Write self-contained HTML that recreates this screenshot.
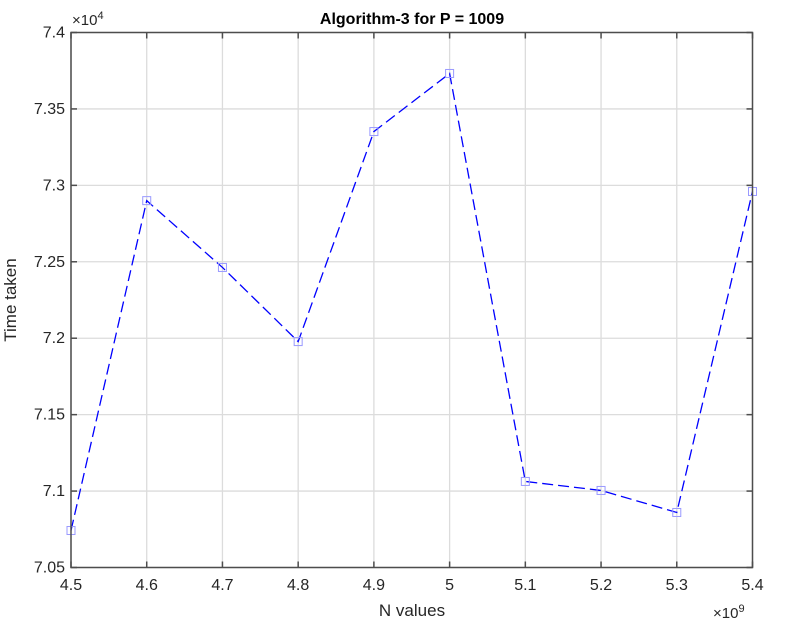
<!DOCTYPE html>
<html><head><meta charset="utf-8"><style>
body{margin:0;background:#fff;}
svg{display:block;font-family:"Liberation Sans",Arial,sans-serif;}
</style></head><body>
<svg id="chart" width="798" height="635" viewBox="0 0 798 635">
<rect x="0" y="0" width="798" height="635" fill="#fff"/>
<g id="grid"></g>
<g id="series"></g>
<rect x="71" y="32.5" width="681.5" height="535" fill="none" stroke="#4d4d4d" stroke-width="1.5"/>
<g id="ticks"></g>
<text x="412" y="24" text-anchor="middle" font-size="16" font-weight="bold" fill="#000">Algorithm-3 for P = 1009</text>
<text x="412" y="616" text-anchor="middle" font-size="17" fill="#262626">N values</text>
<text transform="translate(16,300) rotate(-90)" text-anchor="middle" font-size="17" fill="#262626">Time taken</text>
<text x="72" y="25" font-size="15" fill="#262626">×10<tspan font-size="11" dy="-6">4</tspan></text>
<text x="713" y="618" font-size="15" fill="#262626">×10<tspan font-size="11" dy="-6">9</tspan></text>
</svg>
<script>
const xValues = [4.5, 4.6, 4.7, 4.8, 4.9, 5.0, 5.1, 5.2, 5.3, 5.4];
const yValues = [7.0742, 7.2900, 7.2463, 7.1978, 7.3352, 7.3732, 7.1063, 7.1004, 7.0860, 7.2960];
const xTicks = [4.5, 4.6, 4.7, 4.8, 4.9, 5.0, 5.1, 5.2, 5.3, 5.4];
const xTickLabels = ["4.5","4.6","4.7","4.8","4.9","5","5.1","5.2","5.3","5.4"];
const yTicks = [7.05, 7.1, 7.15, 7.2, 7.25, 7.3, 7.35, 7.4];
const yTickLabels = ["7.05","7.1","7.15","7.2","7.25","7.3","7.35","7.4"];

const L=71,R=752.5,T=32.5,B=567.5;
function sx(v){return L+(v-4.5)/(5.4-4.5)*(R-L);}
function sy(v){return B-(v-7.05)/(7.4-7.05)*(B-T);}
const NS="http://www.w3.org/2000/svg";
function mk(tag,attrs,parent){const e=document.createElementNS(NS,tag);for(const k in attrs)e.setAttribute(k,attrs[k]);parent.appendChild(e);return e;}
const grid=document.getElementById('grid'),ticks=document.getElementById('ticks'),series=document.getElementById('series');
xTicks.forEach((v,i)=>{
  const x=sx(v);
  const g=mk('line',{x1:x,x2:x,y1:T,y2:B,stroke:'#dcdcdc','stroke-width':1.3},grid);
  
  
  const t1=mk('line',{x1:x,x2:x,y1:B,y2:B-6,stroke:'#4d4d4d','stroke-width':1.5},ticks);
  
  
  const t2=mk('line',{x1:x,x2:x,y1:T,y2:T+6,stroke:'#4d4d4d','stroke-width':1.5},ticks);
  
  
  const lb=mk('text',{x:x,y:590,'text-anchor':'middle','font-size':16,fill:'#262626'},ticks);
  lb.textContent=xTickLabels[i];
  
  
});
yTicks.forEach((v,i)=>{
  const y=sy(v);
  const g=mk('line',{x1:L,x2:R,y1:y,y2:y,stroke:'#dcdcdc','stroke-width':1.3},grid);
  
  
  const t1=mk('line',{x1:L,x2:L+6,y1:y,y2:y,stroke:'#4d4d4d','stroke-width':1.5},ticks);
  
  
  const t2=mk('line',{x1:R,x2:R-6,y1:y,y2:y,stroke:'#4d4d4d','stroke-width':1.5},ticks);
  
  
  const lb=mk('text',{x:L-6,y:y+5,'text-anchor':'end','font-size':16,fill:'#262626'},ticks);
  lb.textContent=yTickLabels[i];
  
  
});
const pts=xValues.map((v,i)=>sx(v)+','+sy(yValues[i])).join(' ');
const line=mk('polyline',{points:pts,fill:'none',stroke:'#0000ff','stroke-width':1.3,'stroke-dasharray':'11,5'},series);


xValues.forEach((v,i)=>{
  const m=mk('rect',{x:sx(v)-4,y:sy(yValues[i])-4,width:8,height:8,fill:'none',stroke:'#9999ff','stroke-width':1},series);
  
  
});
</script>
</body></html>
